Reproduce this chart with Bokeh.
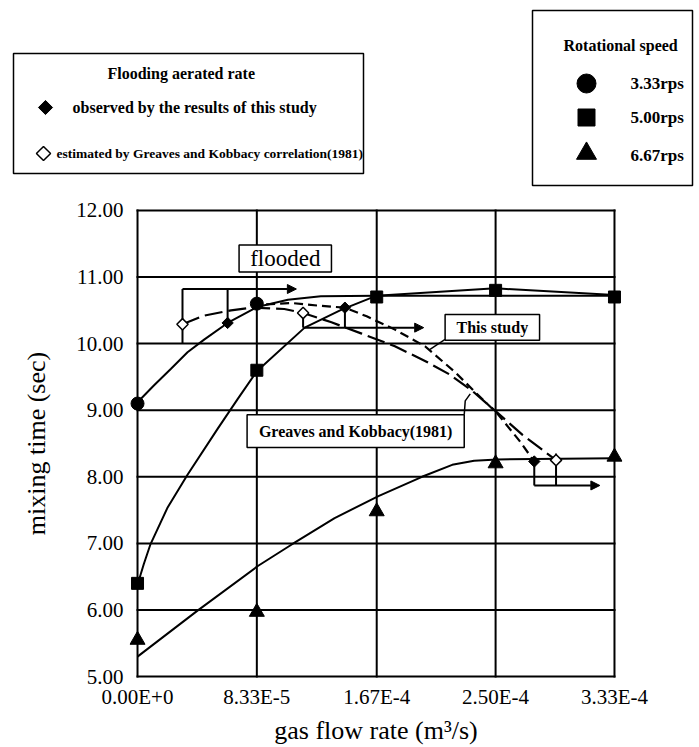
import math
from bokeh.plotting import figure
from bokeh.models import Range1d, FixedTicker, Arrow, NormalHead, CustomJSTickFormatter, PrintfTickFormatter
from bokeh.embed import file_html
from bokeh.resources import INLINE
from bokeh.core.properties import value

SERIF = "Liberation Serif"
DIAMOND_ANGLE = math.pi / 4  # diamonds are drawn as squares turned by 45 degrees

# ---------------- data ----------------
gas_flow = [0.0, 8.33e-5, 1.67e-4, 2.50e-4, 3.33e-4]
x_tick_labels = ["0.00E+0", "8.33E-5", "1.67E-4", "2.50E-4", "3.33E-4"]
y_ticks = [5, 6, 7, 8, 9, 10, 11, 12]

# measured mixing times (sec)
flow_333 = [0.0, 8.33e-5]
time_333 = [9.10, 10.60]
time_500 = [6.40, 9.60, 10.70, 10.80, 10.70]
time_667 = [5.55, 5.97, 7.48, 8.20, 8.30]

# hand-drawn trend curves
fit333_x = [0.0, 1.14e-5, 2.32e-5, 3.49e-5, 4.65e-5, 6.29e-5, 8.35e-5, 1.05e-4, 1.28e-4, 1.67e-4, 2.50e-4, 3.33e-4]
fit333_y = [9.12, 9.37, 9.62, 9.87, 10.06, 10.31, 10.55, 10.66, 10.71, 10.72, 10.72, 10.72]
fit500_x = [0.0, 0.44e-5, 0.91e-5, 2.08e-5, 3.49e-5, 5.59e-5, 7.0e-5, 8.35e-5, 1.167e-4, 1.425e-4, 1.67e-4, 2.50e-4, 3.33e-4]
fit500_y = [6.38, 6.69, 6.99, 7.53, 8.03, 8.72, 9.17, 9.59, 10.24, 10.51, 10.72, 10.83, 10.73]
fit667_x = [0.0, 4.19e-5, 8.40e-5, 1.074e-4, 1.376e-4, 1.682e-4, 1.986e-4, 2.197e-4, 2.35e-4, 2.512e-4, 3.33e-4]
fit667_y = [5.30, 5.99, 6.66, 6.98, 7.38, 7.71, 8.00, 8.18, 8.24, 8.26, 8.28]

# flooding points: observed (this study) and Greaves & Kobbacy (1981)
flood_obs_x = [6.29e-5, 1.448e-4, 2.770e-4]
flood_obs_y = [10.31, 10.54, 8.23]
flood_gk_x = [3.14e-5, 1.156e-4, 2.922e-4]
flood_gk_y = [10.29, 10.46, 8.25]

# flooding boundary curves
gk_curve_x = [3.14e-5, 4.63e-5, 6.53e-5, 7.93e-5, 1.025e-4, 1.156e-4, 1.354e-4, 1.565e-4,
              1.797e-4, 2.007e-4, 2.176e-4, 2.337e-4, 2.498e-4, 2.688e-4, 2.922e-4]
gk_curve_y = [10.29, 10.42, 10.50, 10.54, 10.52, 10.46, 10.32, 10.15,
              9.96, 9.74, 9.54, 9.29, 8.99, 8.63, 8.25]
study_curve_x = [8.98e-5, 1.074e-4, 1.263e-4, 1.448e-4, 1.60e-4, 1.797e-4, 2.007e-4,
                 2.218e-4, 2.358e-4, 2.512e-4, 2.667e-4, 2.770e-4]
study_curve_y = [10.59, 10.61, 10.57, 10.54, 10.41, 10.21, 9.96,
                 9.57, 9.27, 8.95, 8.54, 8.23]

# ---------------- legend panel ----------------
top = figure(width=699, height=190, x_range=Range1d(0, 699), y_range=Range1d(190, 0),
             toolbar_location=None, output_backend="svg", min_border=0,
             x_axis_location=None, y_axis_location=None)
top.grid.visible = False
top.outline_line_color = None

def txt(fig, x, y, s, size, bold=False, align="left"):
    fig.text(x=[x], y=[y], text=[s], text_font=value(SERIF), text_font_size=value(size),
             text_font_style="bold" if bold else "normal", text_align=align,
             text_baseline="middle", text_color="black")

top.quad(left=[13], right=[363], top=[53], bottom=[173], fill_color="white",
         line_color="black", line_width=1.5)
txt(top, 107, 73, "Flooding aerated rate", "16px", True)
top.scatter([45], [107], marker="square", angle=DIAMOND_ANGLE, size=10,
            fill_color="black", line_color="black")
txt(top, 72, 107, "observed by the results of this study", "16px", True)
top.scatter([43], [153], marker="square", angle=DIAMOND_ANGLE, size=10,
            fill_color="white", line_color="black", line_width=1.5)
txt(top, 56, 153, "estimated by Greaves and Kobbacy correlation(1981)", "13.5px", True)

top.quad(left=[532], right=[692], top=[10], bottom=[185], fill_color="white",
         line_color="black", line_width=1.5)
txt(top, 563, 45, "Rotational speed", "16px", True)
top.scatter([586], [83], marker="circle", size=19, fill_color="black", line_color="black")
txt(top, 630, 83, "3.33rps", "17px", True)
top.scatter([586], [117], marker="square", size=17, fill_color="black", line_color="black")
txt(top, 630, 117, "5.00rps", "17px", True)
top.scatter([586], [153], marker="triangle", size=20, fill_color="black", line_color="black")
txt(top, 630, 155, "6.67rps", "17px", True)

# ---------------- main chart ----------------
# a small margin around the axes box keeps edge markers whole; the box and the
# grid are drawn as segments between the first and last ticks
X_PAD = 5.6e-6
Y_PAD = 0.119
p = figure(width=699, height=557,
           x_range=Range1d(gas_flow[0] - X_PAD, gas_flow[-1] + X_PAD),
           y_range=Range1d(y_ticks[0] - Y_PAD, y_ticks[-1] + Y_PAD),
           toolbar_location=None, output_backend="svg",
           min_border_left=129, min_border_right=77, min_border_top=12, min_border_bottom=59)
p.outline_line_color = None
p.grid.visible = False

p.xaxis.ticker = FixedTicker(ticks=gas_flow)
p.xaxis.formatter = CustomJSTickFormatter(args=dict(tick_vals=gas_flow, tick_names=x_tick_labels), code="""
    let best = 0;
    for (let i = 0; i < tick_vals.length; i++) {
        if (Math.abs(tick_vals[i] - tick) < Math.abs(tick_vals[best] - tick)) best = i;
    }
    return tick_names[best];
""")
p.yaxis.ticker = FixedTicker(ticks=y_ticks)
p.yaxis.formatter = PrintfTickFormatter(format="%.2f")
for ax in (p.xaxis[0], p.yaxis[0]):
    ax.axis_line_color = None
    ax.major_tick_line_color = None
    ax.minor_tick_line_color = None
    ax.major_tick_out = 0
    ax.major_tick_in = 0
    ax.major_label_text_font = SERIF
    ax.major_label_text_font_size = "21px"
    ax.major_label_text_color = "black"
    ax.axis_label_text_font = SERIF
    ax.axis_label_text_font_size = "26px"
    ax.axis_label_text_font_style = "normal"
    ax.axis_label_text_color = "black"
p.xaxis.axis_label = "gas flow rate (m³/s)"
p.yaxis.axis_label = "mixing time (sec)"
p.xaxis.major_label_standoff = 0
p.xaxis.axis_label_standoff = 4
p.yaxis.major_label_standoff = 6
p.yaxis.axis_label_standoff = 22

# grid and box
x_lo, x_hi = gas_flow[0], gas_flow[-1]
y_lo, y_hi = y_ticks[0], y_ticks[-1]
p.segment(x0=gas_flow, x1=gas_flow, y0=[y_lo] * len(gas_flow), y1=[y_hi] * len(gas_flow),
          line_color="black", line_width=2, line_cap="square")
p.segment(x0=[x_lo] * len(y_ticks), x1=[x_hi] * len(y_ticks), y0=y_ticks, y1=y_ticks,
          line_color="black", line_width=2, line_cap="square")

# trend curves
p.line(fit333_x, fit333_y, line_color="black", line_width=2)
p.line(fit500_x, fit500_y, line_color="black", line_width=2)
p.line(fit667_x, fit667_y, line_color="black", line_width=2)
p.line(gk_curve_x, gk_curve_y, line_color="black", line_width=2.2, line_dash="18 6")
p.line(study_curve_x, study_curve_y, line_color="black", line_width=2.2, line_dash="9 5")

# flooding brackets with arrows
bk_top = 10.82
p.line([flood_gk_x[0], flood_gk_x[0]], [10.0, bk_top], line_color="black", line_width=2)
p.line([flood_obs_x[0], flood_obs_x[0]], [flood_obs_y[0], bk_top], line_color="black", line_width=2)
p.add_layout(Arrow(end=NormalHead(size=9, fill_color="black", line_color="black"),
                   x_start=flood_gk_x[0], y_start=bk_top, x_end=1.109e-4, y_end=bk_top,
                   line_color="black", line_width=2))
bk_mid = 10.24
p.line([flood_gk_x[1], flood_gk_x[1]], [flood_gk_y[1], bk_mid], line_color="black", line_width=2)
p.line([flood_obs_x[1], flood_obs_x[1]], [flood_obs_y[1], bk_mid], line_color="black", line_width=2)
p.add_layout(Arrow(end=NormalHead(size=9, fill_color="black", line_color="black"),
                   x_start=flood_gk_x[1], y_start=bk_mid, x_end=1.998e-4, y_end=bk_mid,
                   line_color="black", line_width=2))
bk_low = 7.87
p.line([flood_obs_x[2], flood_obs_x[2]], [flood_obs_y[2], bk_low], line_color="black", line_width=2)
p.line([flood_gk_x[2], flood_gk_x[2]], [flood_gk_y[2] + 0.1, bk_low], line_color="black", line_width=2)
p.add_layout(Arrow(end=NormalHead(size=9, fill_color="black", line_color="black"),
                   x_start=flood_obs_x[2], y_start=bk_low, x_end=3.228e-4, y_end=bk_low,
                   line_color="black", line_width=2))

# markers
p.scatter(flow_333, time_333, marker="circle", size=13, fill_color="black", line_color="black")
p.scatter(gas_flow, time_500, marker="square", size=12, fill_color="black", line_color="black")
p.scatter(gas_flow, time_667, marker="triangle", size=15, fill_color="black", line_color="black")
p.scatter(flood_obs_x, flood_obs_y, marker="square", angle=DIAMOND_ANGLE, size=8,
          fill_color="black", line_color="black")
p.scatter(flood_gk_x, flood_gk_y, marker="square", angle=DIAMOND_ANGLE, size=8,
          fill_color="white", line_color="black", line_width=1.5)

# boxed annotations
def boxed(x0, x1, y0, y1, s, size, bold):
    p.quad(left=[x0], right=[x1], bottom=[y0], top=[y1], fill_color="white",
           line_color="black", line_width=1.5)
    p.text(x=[(x0 + x1) / 2], y=[(y0 + y1) / 2], text=[s], text_font=value(SERIF),
           text_font_size=value(size), text_font_style="bold" if bold else "normal",
           text_align="center", text_baseline="middle", text_color="black")

boxed(7.09e-5, 1.354e-4, 11.077, 11.479, "flooded", "23px", False)
boxed(2.1475e-4, 2.807e-4, 10.049, 10.436, "This study", "16px", True)
p.line([2.1475e-4, 2.042e-4], [10.064, 9.915], line_color="black", line_width=1.5)
boxed(7.65e-5, 2.281e-4, 8.44, 8.932, "Greaves and Kobbacy(1981)", "16px", True)
p.line([2.281e-4, 2.288e-4, 2.323e-4], [8.932, 9.14, 9.245], line_color="black", line_width=1.5)

# legend panel and chart are written as two stacked roots
open("out.html", "w").write(file_html([top, p], INLINE))
